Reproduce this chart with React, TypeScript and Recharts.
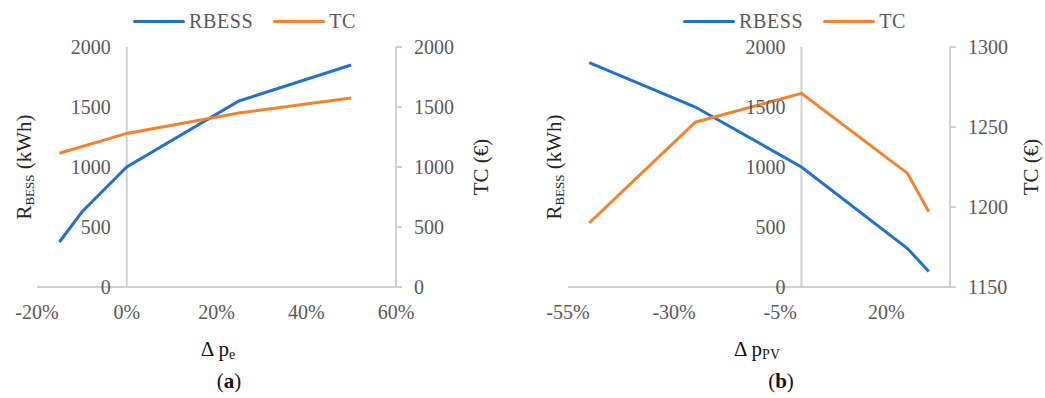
import React from 'react';
import { LineChart, Line, XAxis, YAxis, ReferenceLine, ReferenceDot } from 'recharts';

// (a) sensitivity to electricity price change
const peChange = [-15, -10, 0, 25, 50];
const rbessByPe = [375, 625, 1000, 1550, 1850];
const tcByPe: (number | null)[] = [1115, null, 1280, 1450, 1575];
const peTicks = [-20, 0, 20, 40, 60];
const tcPeTicks = [0, 500, 1000, 1500, 2000];

// (b) sensitivity to PV price change
const pvChange = [-50, -25, 0, 25, 30];
const rbessByPv = [1870, 1500, 1000, 320, 130];
const tcByPv = [1190, 1253, 1271, 1221, 1197];
const pvTicks = [-55, -30, -5, 20];
const tcPvTicks = [1150, 1200, 1250, 1300];

const rbessTicks = [0, 500, 1000, 1500, 2000];

const BLUE = '#2271CF';
const ORANGE = '#F7822B';
const AXIS = '#D0D0D0';
const TICK = '#595959';
const FONT = 'Liberation Serif, Times New Roman, serif';

const buildRows = (xs: number[], rb: number[], tc: (number | null)[]) =>
  xs.map((x, i) => ({ x, rbess: rb[i], tc: tc[i] }));

const tickStyle = { fill: TICK, fontSize: 20, fontFamily: FONT };

interface PanelProps {
  left: number;
  width: number;
  margin: { top: number; right: number; bottom: number; left: number };
  data: { x: number; rbess: number; tc: number | null }[];
  xDomain: [number, number];
  xTicks: number[];
  tcDomain: [number, number];
  tcTicks: number[];
}

function Panel({ left, width, margin, data, xDomain, xTicks, tcDomain, tcTicks }: PanelProps) {
  return (
    <div style={{ position: 'absolute', left, top: 0, fontFamily: FONT }}>
      <LineChart width={width} height={398} data={data} margin={margin} style={{ fontFamily: FONT }}>
        <XAxis
          type="number"
          dataKey="x"
          domain={xDomain}
          ticks={xTicks}
          interval={0}
          tickFormatter={(v: number) => `${v}%`}
          axisLine={{ stroke: AXIS, strokeWidth: 2 }}
          tickLine={false}
          tickSize={0}
          tickMargin={18}
          height={30}
          tick={tickStyle}
        />
        <YAxis yAxisId="left" hide domain={[0, 2000]} ticks={rbessTicks} />
        <YAxis
          yAxisId="right"
          orientation="right"
          domain={tcDomain}
          ticks={tcTicks}
          interval={0}
          width={60}
          axisLine={{ stroke: AXIS, strokeWidth: 2 }}
          tickLine={{ stroke: AXIS, strokeWidth: 2 }}
          tickSize={6}
          tickMargin={12}
          tick={{ ...tickStyle, textAnchor: 'start' }}
        />
        <ReferenceLine yAxisId="left" x={0} stroke={AXIS} strokeWidth={2} />
        {rbessTicks.map((v) => (
          <ReferenceDot
            key={v}
            yAxisId="left"
            x={0}
            y={v}
            r={0}
            fill="none"
            stroke="none"
            label={{ value: v, position: 'left', offset: 16, ...tickStyle }}
          />
        ))}
        <Line
          yAxisId="left"
          type="linear"
          dataKey="rbess"
          stroke={BLUE}
          strokeWidth={3}
          dot={false}
          isAnimationActive={false}
        />
        <Line
          yAxisId="right"
          type="linear"
          dataKey="tc"
          stroke={ORANGE}
          strokeWidth={3}
          dot={false}
          connectNulls
          isAnimationActive={false}
        />
      </LineChart>
    </div>
  );
}

function LegendRow({ left }: { left: number }) {
  const item = (color: string, text: string, gap: number) => (
    <div style={{ display: 'flex', alignItems: 'center', marginRight: gap }}>
      <div style={{ width: 52, height: 3, background: color, borderRadius: 2, marginRight: 4 }} />
      <span style={{ color: TICK, fontSize: 20, letterSpacing: 0.6 }}>{text}</span>
    </div>
  );
  return (
    <div style={{ position: 'absolute', left, top: 10, display: 'flex', fontFamily: FONT }}>
      {item(BLUE, 'RBESS', 20)}
      {item(ORANGE, 'TC', 0)}
    </div>
  );
}

const vTitle = (cx: number, cy: number, content: React.ReactNode) => (
  <div
    style={{
      position: 'absolute',
      left: cx,
      top: cy,
      transform: 'translate(-50%, -50%) rotate(-90deg)',
      whiteSpace: 'nowrap',
      fontFamily: FONT,
      fontSize: 21,
      color: '#262626',
    }}
  >
    {content}
  </div>
);

const rbessTitle = (
  <span>
    R<sub style={{ fontSize: 13, verticalAlign: -3 }}>BESS</sub> (kWh)
  </span>
);

const centered = (cx: number, cy: number, content: React.ReactNode, size = 21) => (
  <div
    style={{
      position: 'absolute',
      left: cx,
      top: cy,
      transform: 'translate(-50%, -50%)',
      whiteSpace: 'nowrap',
      fontFamily: FONT,
      fontSize: size,
      color: '#111',
    }}
  >
    {content}
  </div>
);

export default function App() {
  return (
    <div
      style={{
        position: 'absolute',
        left: 0,
        top: 0,
        width: 1045,
        height: 398,
        background: '#fff',
        fontFamily: FONT,
      }}
    >
      <Panel
        left={0}
        width={520}
        margin={{ top: 47, right: 64, bottom: 81, left: 37 }}
        data={buildRows(peChange, rbessByPe, tcByPe)}
        xDomain={[-20, 60]}
        xTicks={peTicks}
        tcDomain={[0, 2000]}
        tcTicks={tcPeTicks}
      />
      <Panel
        left={520}
        width={525}
        margin={{ top: 47, right: 35, bottom: 81, left: 48 }}
        data={buildRows(pvChange, rbessByPv, tcByPv)}
        xDomain={[-55, 35]}
        xTicks={pvTicks}
        tcDomain={[1150, 1300]}
        tcTicks={tcPvTicks}
      />
      <LegendRow left={133} />
      <LegendRow left={683} />
      {vTitle(25, 167, rbessTitle)}
      {vTitle(481, 167, 'TC (€)')}
      {vTitle(555, 167, rbessTitle)}
      {vTitle(1031, 167, 'TC (€)')}
      {centered(218, 350, <span>Δ p<sub style={{ fontSize: 14, verticalAlign: -3 }}>e</sub></span>)}
      {centered(757, 350, <span>Δ p<sub style={{ fontSize: 14, verticalAlign: -3 }}>PV</sub></span>)}
      {centered(229, 381, <span>(<b>a</b>)</span>)}
      {centered(781, 381, <span>(<b>b</b>)</span>)}
    </div>
  );
}
